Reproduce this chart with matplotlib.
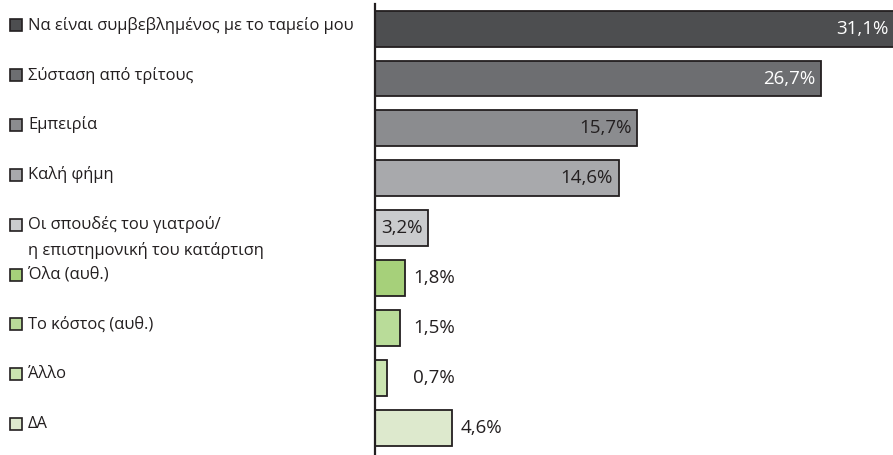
import matplotlib
matplotlib.use("Agg")
import matplotlib.pyplot as plt
from matplotlib.transforms import blended_transform_factory

plt.rcParams['font.family'] = ['Open Sans', 'DejaVu Sans']

categories = [
    "Να είναι συμβεβλημένος με το ταμείο μου",
    "Σύσταση από τρίτους",
    "Εμπειρία",
    "Καλή φήμη",
    "Οι σπουδές του γιατρού/\nη επιστημονική του κατάρτιση",
    "Όλα (αυθ.)",
    "Το κόστος (αυθ.)",
    "Άλλο",
    "ΔΑ",
]
values = [31.1, 26.7, 15.7, 14.6, 3.2, 1.8, 1.5, 0.7, 4.6]
label_inside = [True, True, True, True, True, False, False, False, False]
colors = ["#4d4e50", "#6d6e71", "#8b8c8f", "#a8a9ac", "#cacbcd",
          "#a6d07a", "#b9dc99", "#cbe5b1", "#dde9cd"]
edge = "#231f20"

W, H = 893, 455
fig = plt.figure(figsize=(W / 100, H / 100), dpi=100)
ax = fig.add_axes([375 / W, 0, (W - 375) / W, (H - 4) / H])

ypos = list(range(len(values)))
ax.barh(ypos, values, height=0.72, color=colors, edgecolor=edge,
        linewidth=1.3, clip_on=False, zorder=2)

ax.set_xlim(0, 31.0)
ax.set_ylim(8.55, -0.495)
for side in ("top", "right", "bottom"):
    ax.spines[side].set_visible(False)
ax.spines["left"].set_linewidth(1.6)
ax.spines["left"].set_color(edge)
ax.spines["left"].set_zorder(3)
ax.set_xticks([])
ax.set_yticks([])

# value labels: inside the grey bars, to the right of the green ones
for y, v, inside in zip(ypos, values, label_inside):
    txt = f"{v:.1f}%".replace(".", ",")
    if inside:
        col = "white" if v > 20 else "#231f20"
        ax.text(v - 0.35, y, txt, ha="right", va="center",
                fontsize=13.5, color=col, zorder=4)
    else:
        ax.text(max(v, 1.8) + 0.5, y, txt, ha="left", va="center",
                fontsize=13.5, color="#231f20", zorder=4)

# left-hand category key with colour squares
tr = blended_transform_factory(fig.transFigure, ax.transData)
for y, label, c in zip(ypos, categories, colors):
    lines = label.split("\n")
    ly = y - 0.07
    ax.plot([16 / W], [ly], marker="s", markersize=8.5, color=c,
            markeredgecolor=edge, markeredgewidth=1.2,
            transform=tr, clip_on=False)
    for k, line in enumerate(lines):
        ax.text(28 / W, ly + k * 0.52, line, ha="left", va="center",
                fontsize=11.9, color="#231f20", transform=tr)

fig.savefig("out.png", dpi=100)
